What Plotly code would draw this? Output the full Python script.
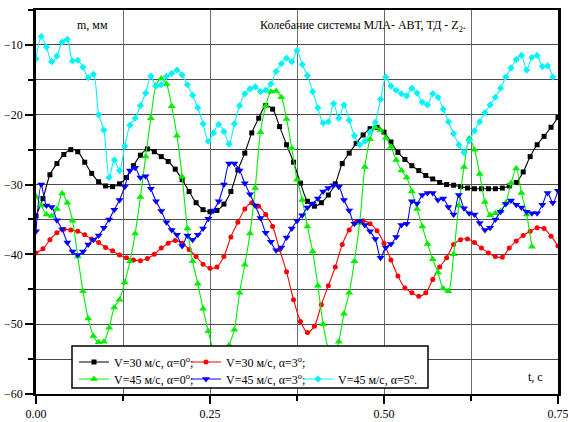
import numpy as np
import plotly.graph_objects as go

# ---- time grids, s ----
t_30 = np.linspace(0.0, 0.75, 76)     # V=30 m/s runs, 0.01 s step
t_45 = np.linspace(0.0, 0.75, 101)    # V=45 m/s runs, 0.0075 s step

# ---- displacement m, mm ----
m_v30_a0 = [-34.5, -32.0, -28.6, -27.0, -25.7, -25.0, -25.3, -26.8, -28.4, -29.6,
            -30.2, -30.3, -29.9, -29.0, -27.3, -25.8, -24.9, -25.3, -26.0, -26.7,
            -27.8, -29.3, -31.0, -32.6, -33.6, -33.9, -33.7, -32.8, -31.0, -27.9,
            -25.5, -22.6, -20.5, -18.7, -19.2, -21.7, -24.3, -26.8, -29.8, -32.4,
            -33.1, -32.6, -31.5, -29.9, -27.0, -25.5, -24.1, -22.9, -22.0, -21.8,
            -22.5, -23.9, -25.4, -26.4, -27.3, -28.0, -28.7, -29.2, -29.7, -30.0,
            -30.1, -30.3, -30.5, -30.6, -30.6, -30.6, -30.6, -30.5, -30.2, -29.7,
            -28.2, -26.0, -24.3, -23.1, -21.8, -20.4]

m_v30_a3 = [-39.8, -39.2, -37.9, -36.9, -36.4, -36.5, -36.7, -37.2, -37.8, -38.3,
            -39.0, -39.5, -40.1, -40.5, -40.8, -40.9, -40.6, -40.0, -39.1, -38.4,
            -38.0, -38.4, -39.3, -40.3, -41.4, -42.0, -41.8, -40.3, -37.5, -35.4,
            -33.5, -32.6, -33.1, -34.3, -36.0, -39.3, -42.5, -46.5, -49.6, -51.2,
            -50.3, -47.2, -44.5, -41.8, -38.6, -36.5, -35.4, -35.2, -35.6, -36.6,
            -38.4, -40.8, -43.1, -44.8, -45.5, -46.0, -45.5, -43.6, -41.8, -40.5,
            -38.6, -37.9, -37.8, -38.3, -39.1, -39.8, -40.3, -40.4, -39.1, -38.1,
            -37.3, -36.7, -36.2, -36.3, -37.4, -38.8]

m_v45_a0 = [-31.7, -33.0, -34.3, -34.5, -33.5, -31.3, -32.6, -35.2, -40.3, -45.3,
            -49.2, -51.7, -52.6, -52.5, -50.5, -47.6, -46.5, -44.0, -41.0, -37.0,
            -31.8, -26.0, -20.5, -15.8, -14.8, -15.6, -18.8, -23.0, -28.9, -36.3,
            -41.0, -44.2, -47.8, -51.0, -53.8, -55.5, -55.6, -53.0, -50.8, -45.5,
            -41.5, -37.0, -30.5, -22.5, -18.8, -16.7, -16.6, -17.5, -20.6, -24.8,
            -29.3, -32.2, -36.0, -39.6, -44.5, -50.0, -53.5, -54.8, -52.5, -48.5,
            -45.5, -41.0, -35.5, -27.5, -23.5, -21.8, -22.2, -23.3, -24.6, -26.5,
            -28.0, -29.0, -31.0, -33.5, -36.0, -38.5, -40.7, -42.6, -44.9, -45.3,
            -40.0, -33.0, -27.5, -23.4, -25.0, -28.5, -32.5, -34.4, -34.1, -33.8,
            -32.6, -29.8, -27.7, -31.2, -34.3, -38.9]

m_v45_a3 = [-36.7, -30.0, -33.0, -33.2, -35.1, -36.4, -38.3, -39.6, -40.1, -39.6,
            -38.6, -37.9, -37.3, -36.2, -35.0, -33.6, -32.2, -30.3, -28.0, -27.6,
            -29.0, -28.8, -30.6, -32.4, -33.8, -35.4, -36.5, -37.2, -38.8, -37.3,
            -37.9, -37.2, -36.3, -34.9, -33.7, -32.4, -30.0, -27.0, -27.0, -28.0,
            -29.8, -31.4, -33.0, -34.8, -36.9, -38.2, -39.4, -39.0, -37.6, -36.3,
            -35.2, -34.4, -33.3, -32.7, -32.0, -31.0, -30.5, -30.1, -30.3, -32.2,
            -33.7, -35.6, -35.2, -35.8, -36.7, -37.8, -40.5, -39.0, -38.5, -37.5,
            -35.8, -35.6, -32.4, -32.7, -31.5, -31.2, -31.2, -32.2, -32.0, -33.2,
            -34.3, -31.5, -33.4, -34.1, -34.3, -35.5, -36.5, -36.2, -35.0, -33.9,
            -32.8, -32.3, -32.9, -33.3, -33.9, -34.1, -34.1, -32.9, -31.2, -32.6,
            -30.9]

m_v45_a5 = [-12.0, -8.8, -10.3, -12.4, -11.6, -9.6, -9.2, -12.3, -12.2, -13.2,
            -14.7, -14.2, -20.0, -22.2, -29.0, -26.5, -28.0, -24.5, -21.5, -20.5,
            -18.7, -16.9, -14.5, -15.9, -15.7, -14.5, -14.1, -13.6, -14.3, -15.7,
            -17.2, -19.0, -21.3, -23.8, -22.6, -21.4, -22.4, -24.2, -21.3, -18.7,
            -17.0, -16.3, -16.0, -16.7, -16.5, -15.6, -13.8, -12.7, -11.9, -12.4,
            -10.8, -12.8, -14.4, -16.7, -19.0, -21.2, -21.0, -18.4, -20.5, -18.6,
            -20.8, -23.0, -24.3, -23.8, -22.5, -21.1, -17.8, -14.6, -15.9, -16.5,
            -17.0, -17.3, -16.2, -16.9, -18.2, -18.6, -17.0, -17.5, -19.2, -21.0,
            -22.7, -24.3, -25.4, -23.7, -22.3, -21.0, -19.7, -18.6, -17.5, -16.2,
            -14.6, -13.3, -12.1, -11.5, -13.6, -11.8, -11.5, -13.1, -13.0, -14.6]

x_tickvals = [0.0, 0.25, 0.50, 0.75]
x_ticktext = ["0.00", "0.25", "0.50", "0.75"]
y_tickvals = [-60, -50, -40, -30, -20, -10]

FONT = "'Liberation Serif', 'Times New Roman', serif"

# pixel layout of the plotting box
W, H = 568, 422
L, R, T, B = 36, 10, 10, 28
pw, ph = W - L - R, H - T - B

def px_x(p):
    return (p - L) / pw

def px_y(p):
    return (H - B - p) / ph

series = [
    # name, t, m, colour, symbol, size, legend id, legend position (px)
    ("V=30 м/с, α=0<sup>o</sup>;", t_30, m_v30_a0, "#000000", "square", 5, "legend", (74, 362)),
    ("V=30 м/с, α=3<sup>o</sup>;", t_30, m_v30_a3, "#ff0000", "circle", 5, "legend2", (186, 362)),
    ("V=45 м/с, α=0<sup>o</sup>;", t_45[:len(m_v45_a0)], m_v45_a0, "#00ee00", "triangle-up", 7, "legend3", (74, 379)),
    ("V=45 м/с, α=3<sup>o</sup>;", t_45, m_v45_a3, "#0000ff", "triangle-down", 7, "legend4", (186, 379)),
    ("V=45 м/с, α=5<sup>o</sup>.", t_45[:len(m_v45_a5)], m_v45_a5, "#00f4fa", "diamond", 5.5, "legend5", (298, 379)),
]

fig = go.Figure()
legends = {}
for name, t, m, col, sym, size, leg, (lx, ly) in series:
    fig.add_trace(go.Scatter(
        x=t, y=m, name=name, mode="lines+markers",
        line=dict(color=col, width=1.1, shape="spline", smoothing=0.8),
        marker=dict(color=col, symbol=sym, size=size, line=dict(width=0)),
        legend=leg,
    ))
    legends[leg] = dict(orientation="h", x=px_x(lx), y=px_y(ly),
                        xanchor="left", yanchor="middle",
                        bgcolor="rgba(0,0,0,0)", borderwidth=0,
                        font=dict(family=FONT, size=12, color="black"),
                        itemwidth=30, tracegroupgap=0)

fig.update_layout(
    width=W, height=H,
    margin=dict(l=L, r=R, t=T, b=B, pad=0, autoexpand=False),
    paper_bgcolor="white", plot_bgcolor="white",
    font=dict(family=FONT, size=12, color="black"),
    showlegend=True,
    **legends,
    xaxis=dict(
        range=[0, 0.75], tickvals=x_tickvals, ticktext=x_ticktext, automargin=False,
        ticklabeloverflow="allow",
        showline=True, linecolor="black", linewidth=2, mirror=True,
        ticks="outside", ticklen=8, tickwidth=2, tickcolor="black",
        showgrid=True, gridcolor="#6a6a6a", gridwidth=1.4,
        minor=dict(dtick=0.125, tick0=0, ticks="outside", ticklen=5, tickwidth=1.5,
                   tickcolor="black", showgrid=True, gridcolor="#6a6a6a", gridwidth=1.4),
        zeroline=False, tickfont=dict(family=FONT, size=12, color="black"),
    ),
    yaxis=dict(
        range=[-60, -5], tickvals=y_tickvals, automargin=False,
        ticklabeloverflow="allow",
        showline=True, linecolor="black", linewidth=2.5, mirror=True,
        ticks="outside", ticklen=8, tickwidth=1.5, tickcolor="black",
        showgrid=True, gridcolor="#4a4a4a", gridwidth=1.2,
        minor=dict(dtick=5, tick0=-60, ticks="outside", ticklen=5, tickwidth=1.5,
                   tickcolor="black", showgrid=True, gridcolor="#4a4a4a", gridwidth=1.2),
        zeroline=False, tickfont=dict(family=FONT, size=12, color="black"),
    ),
    shapes=[dict(type="rect", xref="paper", yref="paper",
                 x0=px_x(72), x1=px_x(428), y0=px_y(388), y1=px_y(346),
                 fillcolor="white", line=dict(color="black", width=1.5), layer="above")],
    annotations=[
        dict(text="m, мм", x=0.0805, y=-7.2, xref="x", yref="y", showarrow=False,
             font=dict(family=FONT, size=12, color="black")),
        dict(text="Колебание системы МЛА- АВТ, ТД - Z<sub>2</sub>.", x=0.47, y=-7.3,
             xref="x", yref="y", showarrow=False, font=dict(family=FONT, size=12, color="black")),
        dict(text="t, c", x=0.717, y=-57.5, xref="x", yref="y", showarrow=False,
             font=dict(family=FONT, size=12, color="black")),
    ],
)

fig.write_html("out.html")
